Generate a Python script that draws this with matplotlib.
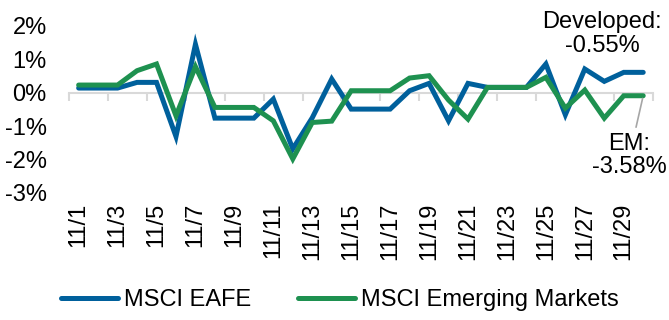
import matplotlib
matplotlib.use("Agg")
import matplotlib.pyplot as plt
from matplotlib.ticker import FuncFormatter

# daily returns (%) for November
dates = ["11/1", "11/2", "11/3", "11/4", "11/5", "11/6", "11/7", "11/8", "11/9", "11/10",
         "11/11", "11/12", "11/13", "11/14", "11/15", "11/16", "11/17", "11/18", "11/19", "11/20",
         "11/21", "11/22", "11/23", "11/24", "11/25", "11/26", "11/27", "11/28", "11/29", "11/30"]
eafe = [0.14, 0.14, 0.14, 0.31, 0.31, -1.31, 1.45, -0.76, -0.76, -0.76,
        -0.19, -1.68, -0.75, 0.41, -0.49, -0.49, -0.49, 0.06, 0.28, -0.84,
        0.28, 0.16, 0.16, 0.16, 0.86, -0.66, 0.71, 0.34, 0.61, 0.61]
em = [0.23, 0.23, 0.23, 0.66, 0.86, -0.69, 0.78, -0.44, -0.44, -0.44,
      -0.84, -1.98, -0.89, -0.85, 0.06, 0.06, 0.06, 0.44, 0.51, -0.22,
      -0.79, 0.16, 0.16, 0.16, 0.46, -0.46, 0.08, -0.76, -0.09, -0.09]
series_names = ["MSCI EAFE", "MSCI Emerging Markets"]
dev_label = "Developed:\n-0.55%"
em_label = "EM:\n-3.58%"

BLUE = "#00609C"
GREEN = "#1E9150"
GRAY = "#D9D9D9"
FS = 17

plt.rcParams["font.family"] = ["Liberation Sans", "DejaVu Sans"]
plt.rcParams["axes.unicode_minus"] = False

fig = plt.figure(figsize=(6.69, 3.2), dpi=100)
ax = fig.add_axes([0.103, 0.397, 0.873, 0.522])

x = list(range(len(dates)))
ax.plot(x, eafe, color=BLUE, lw=3.6, solid_capstyle="round", solid_joinstyle="miter",
        label=series_names[0], zorder=3)
ax.plot(x, em, color=GREEN, lw=3.6, solid_capstyle="round", solid_joinstyle="miter",
        label=series_names[1], zorder=4)

ymin, ymax = -3, 2
ax.set_ylim(ymin, ymax)
ax.set_xlim(-0.5, len(dates) - 0.5)
ax.set_yticks(range(ymin, ymax + 1))
ax.yaxis.set_major_formatter(FuncFormatter(lambda v, p: f"{v:.0f}%"))
ax.tick_params(axis="y", length=0, pad=16, labelsize=FS)

ax.set_xticks(x[::2])
ax.set_xticklabels(dates[::2], rotation=90)
ax.tick_params(axis="x", length=0, pad=7, labelsize=FS)

for s in ax.spines.values():
    s.set_visible(False)

# category axis crossing at zero, with tick marks between every 2 days
zero_loc = (0 - ymin) / (ymax - ymin)
sec = ax.secondary_xaxis(zero_loc)
sec.set_xticks([i - 0.5 for i in range(0, len(dates) + 1, 2)])
sec.set_xticklabels([])
sec.tick_params(axis="x", which="both", direction="out", length=6, width=1.5, color=GRAY,
                top=False, bottom=True, labeltop=False, labelbottom=False)
for s in sec.spines.values():
    s.set_color(GRAY)
    s.set_linewidth(1.5)

ax.text(26.9, 1.76, dev_label, ha="center", va="center", fontsize=FS,
        linespacing=1.1, zorder=5)
ax.annotate(em_label, xy=(len(dates) - 1, em[-1]), xytext=(28.3, -1.88),
            ha="center", va="center", fontsize=FS, linespacing=1.1,
            arrowprops=dict(arrowstyle="-", color="#A6A6A6", lw=1.2,
                            shrinkA=2, shrinkB=2), zorder=5)

fig.legend(loc="center", bbox_to_anchor=(0.508, 0.0625), ncol=2, frameon=False,
           fontsize=FS, handlelength=2.4, handletextpad=0.25, columnspacing=2.0)

fig.savefig("out.png", dpi=100)
